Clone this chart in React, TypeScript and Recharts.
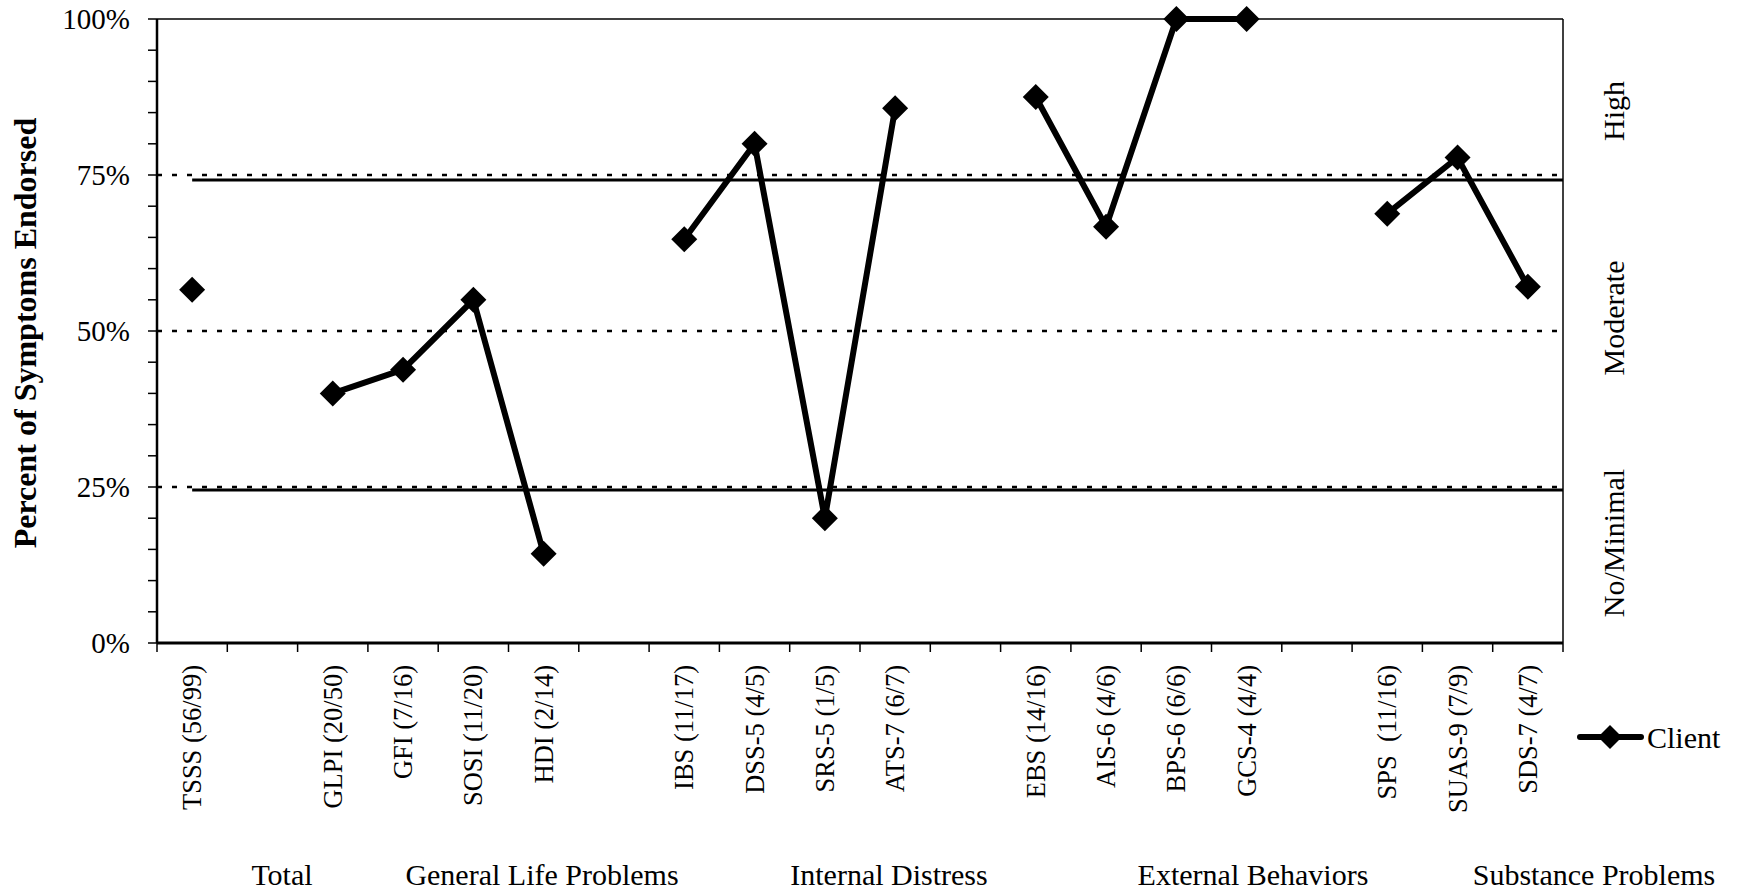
import { LineChart, Line, XAxis, YAxis, ReferenceLine } from "recharts";

// subscale labels; "" marks the empty slot between groups
const categories = [
  "TSSS (56/99)", "",
  "GLPI (20/50)", "GFI (7/16)", "SOSI (11/20)", "HDI (2/14)", "",
  "IBS (11/17)", "DSS-5 (4/5)", "SRS-5 (1/5)", "ATS-7 (6/7)", "",
  "EBS (14/16)", "AIS-6 (4/6)", "BPS-6 (6/6)", "GCS-4 (4/4)", "",
  "SPS  (11/16)", "SUAS-9 (7/9)", "SDS-7 (4/7)",
];

const clientPct = [
  56.6, null,
  40, 43.8, 55, 14.3, null,
  64.7, 80, 20, 85.7, null,
  87.5, 66.7, 100, 100, null,
  68.8, 77.8, 57.1,
];

const groups = ["Total", "General Life Problems", "Internal Distress", "External Behaviors", "Substance Problems"];
const bands = ["High", "Moderate", "No/Minimal"];
const yTicks = [0, 5, 10, 15, 20, 25, 30, 35, 40, 45, 50, 55, 60, 65, 70, 75, 80, 85, 90, 95, 100];
const dottedCuts = [25, 50, 75];
const solidCuts = [24.5, 74.2];

const data = categories.map((name, i) => ({ x: i + 0.5, name, client: clientPct[i] }));
const xTicks = categories.flatMap((_, i) => [i, i + 0.5]).concat(categories.length);

// layout (px)
const W = 1748;
const H = 893;
const PLOT_LEFT = 157;
const PLOT_TOP = 19;
const PLOT_RIGHT = 1563;
const PLOT_BOTTOM = 643;
const groupX = [282, 542, 889, 1253, 1594];
const bandY = [111, 318, 543];
const FONT = '"Liberation Serif", "Times New Roman", serif';

function XTick({ x, y, payload }: any) {
  const v = payload.value as number;
  if (Number.isInteger(v)) {
    return <line x1={x} y1={y} x2={x} y2={y + 9} stroke="#000" strokeWidth={1.5} />;
  }
  const label = categories[Math.floor(v)];
  if (!label) return <g />;
  return (
    <text
      transform={`translate(${x},${y + 22}) rotate(-90)`}
      textAnchor="end"
      dominantBaseline="central"
      fontSize={26.5}
      fontFamily={FONT}
      fill="#000"
      style={{ whiteSpace: "pre" }}
    >
      {label}
    </text>
  );
}

function Diamond({ cx, cy, r = 13 }: any) {
  if (cx == null || cy == null) return <g />;
  return <path d={`M${cx},${cy - r}L${cx + r},${cy}L${cx},${cy + r}L${cx - r},${cy}Z`} fill="#000" />;
}

export default function App() {
  return (
    <div style={{ position: "absolute", left: 0, top: 0, width: W, height: H, background: "#fff" }}>
      <LineChart
        width={W}
        height={H}
        data={data}
        margin={{ top: PLOT_TOP, left: PLOT_LEFT - 60, right: W - PLOT_RIGHT, bottom: H - PLOT_BOTTOM - 200 }}
      >
        <XAxis
          type="number"
          dataKey="x"
          domain={[0, categories.length]}
          ticks={xTicks}
          interval={0}
          height={200}
          tickLine={false}
          tickSize={0}
          tickMargin={0}
          tick={<XTick />}
          axisLine={{ stroke: "#000", strokeWidth: 3 }}
        />
        <YAxis
          type="number"
          domain={[0, 100]}
          ticks={yTicks}
          interval={0}
          width={60}
          tickSize={9}
          tickMargin={18}
          tickFormatter={(v: number) => (v % 25 === 0 ? `${v}%` : "")}
          tick={{ fontSize: 29, fill: "#000", fontFamily: FONT }}
          tickLine={{ stroke: "#000", strokeWidth: 1.5 }}
          axisLine={{ stroke: "#000", strokeWidth: 2.5 }}
        />
        <ReferenceLine y={100} stroke="#000" strokeWidth={1.5} />
        <ReferenceLine x={categories.length} stroke="#000" strokeWidth={1.5} />
        {dottedCuts.map((c) => (
          <ReferenceLine key={`d${c}`} y={c} stroke="#000" strokeWidth={2.5} strokeDasharray="5 10" />
        ))}
        {solidCuts.map((c) => (
          <ReferenceLine
            key={`s${c}`}
            segment={[{ x: 0.5, y: c }, { x: categories.length, y: c }]}
            stroke="#000"
            strokeWidth={3}
          />
        ))}
        <Line
          type="linear"
          dataKey="client"
          name="Client"
          stroke="#000"
          strokeWidth={6}
          dot={(p: any) => <Diamond key={p.index} cx={p.cx} cy={p.cy} />}
          activeDot={false}
          connectNulls={false}
          isAnimationActive={false}
        />
      </LineChart>

      {/* titles, band names, group names, legend */}
      <svg width={W} height={H} style={{ position: "absolute", left: 0, top: 0, pointerEvents: "none" }}>
        <text
          transform={`translate(25,${(PLOT_TOP + PLOT_BOTTOM) / 2 + 2}) rotate(-90)`}
          textAnchor="middle"
          dominantBaseline="central"
          fontSize={32}
          fontWeight="bold"
          fontFamily={FONT}
        >
          Percent of Symptoms Endorsed
        </text>
        {bands.map((b, i) => (
          <text
            key={b}
            transform={`translate(1624,${bandY[i]}) rotate(-90)`}
            textAnchor="middle"
            fontSize={30}
            fontFamily={FONT}
          >
            {b}
          </text>
        ))}
        {groups.map((g, i) => (
          <text key={g} x={groupX[i]} y={885} textAnchor="middle" fontSize={30} fontFamily={FONT}>
            {g}
          </text>
        ))}
        <line x1={1580} y1={737} x2={1641} y2={737} stroke="#000" strokeWidth={6} strokeLinecap="round" />
        <Diamond cx={1610} cy={737} r={12} />
        <text x={1647} y={737} dominantBaseline="central" fontSize={30} fontFamily={FONT}>
          Client
        </text>
      </svg>
    </div>
  );
}
